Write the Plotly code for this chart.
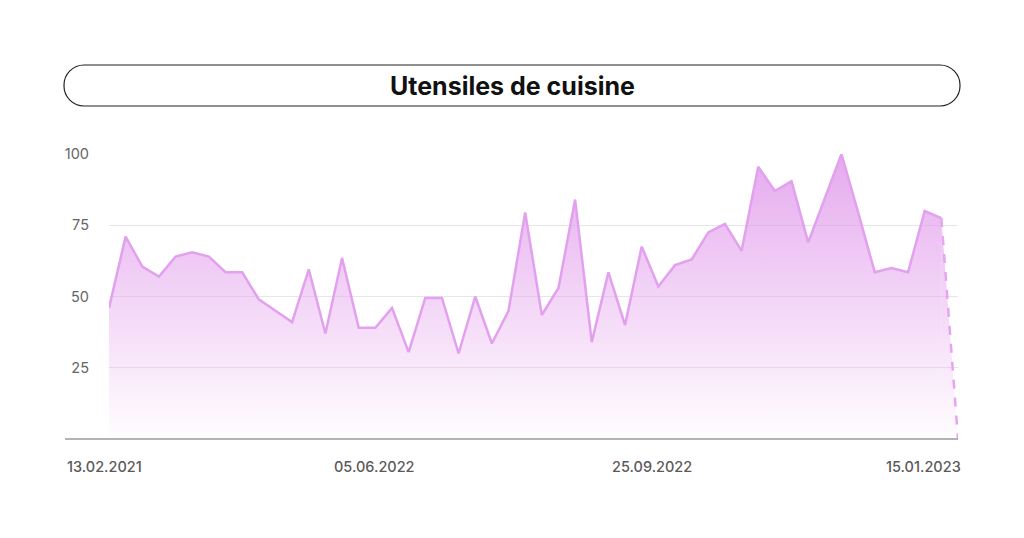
import plotly.graph_objects as go

# ---- data ----
week_index = list(range(52))
interest = [46, 71, 60.5, 57, 64, 65.5, 64, 58.5, 58.5, 49, 45, 41, 59.5, 37,
            63.5, 39, 39, 46, 30.5, 49.5, 49.5, 30, 50, 33.5, 45, 79.5, 43.5,
            53, 84, 34, 58.5, 40, 67.5, 53.5, 61, 63, 72.5, 75.5, 66, 95.5,
            87, 90.5, 69, 84.5, 100, 79.5, 58.5, 60, 58.5, 80, 77.5, 0]
solid_n = 51  # last point is drawn dashed (incomplete period)
x_labels = ["13.02.2021", "05.06.2022", "25.09.2022", "15.01.2023"]
y_ticks = [25, 50, 75, 100]
title_text = "Utensiles de cuisine"

LINE = "#e3a0ef"
grad = dict(type="vertical", start=0, stop=100,
            colorscale=[[0, "rgba(230,165,238,0.02)"], [1, "rgba(226,160,236,0.9)"]])

fig = go.Figure()
fig.add_trace(go.Scatter(
    x=week_index[:solid_n], y=interest[:solid_n], mode="lines",
    line=dict(color=LINE, width=2.5), fill="tozeroy", fillgradient=grad,
    hoverinfo="skip", showlegend=False))
fig.add_trace(go.Scatter(
    x=week_index[solid_n - 1:], y=interest[solid_n - 1:], mode="lines",
    line=dict(color="#e6a4f2", width=2.5, dash="dash"), fill="tozeroy",
    fillgradient=grad, hoverinfo="skip", showlegend=False))

OFF = 8  # page body margin
L, R, T, B = 109 - OFF, 958 - OFF, 154 - OFF, 439 - OFF
W, H = 1024 - 2 * OFF, 538 - 2 * OFF
pw, ph = R - L, B - T

def px(xpix):
    return (xpix - OFF - L) / pw

def py(ypix):
    return (B - (ypix - OFF)) / ph

fig.update_layout(
    width=W, height=H,
    margin=dict(l=L, r=W - R, t=T, b=H - B, pad=0),
    paper_bgcolor="white", plot_bgcolor="white",
    xaxis=dict(range=[0, 51], showgrid=False, zeroline=False, showline=False,
               showticklabels=False, ticks="", fixedrange=True),
    yaxis=dict(range=[0, 100], tickvals=y_ticks, showgrid=True,
               gridcolor="#e6e6e6", gridwidth=1, zeroline=False, showline=False,
               ticks="", ticklabelstandoff=19,
               tickfont=dict(family="Inter", size=14.5, color="#666666"),
               fixedrange=True),
)

# axis baseline
fig.add_shape(type="line", xref="paper", yref="paper", x0=px(65), x1=px(958),
              y0=0, y1=0, line=dict(color="#9a9a9a", width=1.5), layer="above")

# x labels
lab_y = py(466)
positions = [(px(65), "left"), (px(374), "center"), (px(652), "center"), (px(963), "right")]
for (xp, anchor), txt in zip(positions, x_labels):
    fig.add_annotation(text=txt, xref="paper", yref="paper", x=xp, y=lab_y,
                       xanchor=anchor, yanchor="middle", showarrow=False,
                       font=dict(family="Inter", size=14.5, color="#5a5a5a", weight=500))

# rounded title box
x0, x1 = px(64), px(960)
y0, y1 = py(106), py(65)
rx, ry = 20 / pw, 20 / ph
k = 0.45
path = (f"M {x0+rx},{y1} L {x1-rx},{y1} "
        f"C {x1-rx*k},{y1} {x1},{y1-ry*k} {x1},{y1-ry} "
        f"L {x1},{y0+ry} "
        f"C {x1},{y0+ry*k} {x1-rx*k},{y0} {x1-rx},{y0} "
        f"L {x0+rx},{y0} "
        f"C {x0+rx*k},{y0} {x0},{y0+ry*k} {x0},{y0+ry} "
        f"L {x0},{y1-ry} "
        f"C {x0},{y1-ry*k} {x0+rx*k},{y1} {x0+rx},{y1} Z")
fig.add_shape(type="path", xref="paper", yref="paper", path=path,
              line=dict(color="#222222", width=1.2), fillcolor="white")
fig.add_annotation(text=f"<b>{title_text}</b>", xref="paper", yref="paper",
                   x=px(512), y=py(86), xanchor="center", yanchor="middle",
                   showarrow=False, font=dict(family="Inter", size=25, color="#111111"))

fig.write_html("out.html")
